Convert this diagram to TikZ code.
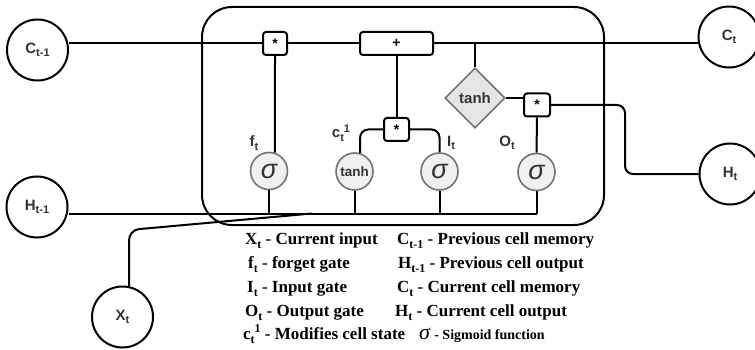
\documentclass[tikz,border=0pt]{standalone}
\usepackage{fontspec}
\setmainfont{Liberation Serif}
\newfontfamily\lsans{Liberation Sans}
\usetikzlibrary{shapes.geometric}
\newcommand\dgs[1]{\raisebox{-3.5pt}{\fontsize{11}{11}\selectfont #1}}
\newcommand\dgp[1]{\raisebox{5.5pt}{\fontsize{11}{11}\selectfont #1}}
\newcommand\lgs[1]{\raisebox{-4pt}{\fontsize{12}{12}\selectfont #1}}
\newcommand\lgp[1]{\raisebox{7pt}{\fontsize{12}{12}\selectfont #1}}
\newcommand\sig[1]{{\fontsize{#1}{#1}\selectfont\itshape σ}}
\tikzset{
  wire/.style={line width=2pt, line join=round},
  big/.style={circle, draw, line width=2pt, minimum size=61pt, inner sep=0pt, fill=white,
    text=black!80, font=\lsans\bfseries\fontsize{15}{15}\selectfont},
  gate/.style={circle, draw=black!55, fill=black!6, line width=1.6pt, minimum size=37pt,
    inner sep=0pt, text=black!80, font=\lsans\bfseries\fontsize{14}{14}\selectfont},
  opbox/.style={draw, rounded corners=3pt, line width=2pt, fill=white, minimum height=23pt,
    inner sep=0pt, font=\lsans\bfseries\fontsize{14}{14}\selectfont},
  lbl/.style={text=black!80, inner sep=0pt, font=\lsans\bfseries\fontsize{15}{15}\selectfont},
  leg/.style={anchor=base west, inner sep=0pt, font=\bfseries\fontsize{17}{17}\selectfont},
}
\begin{document}
\begin{tikzpicture}[x=1pt,y=-1pt]
\useasboundingbox (0,0) rectangle (755,350);
% cell
\node[draw, line width=2pt, rounded corners=30pt, minimum width=402pt, minimum height=218pt,
  inner sep=0pt] (cell) at (403,116) {};
% outer circles
\node[big] (Cp) at (37.5,50) {C\dgs{t-1}};
\node[big] (Hp) at (37,207) {H\dgs{t-1}};
\node[big] (X) at (122.5,317) {X\dgs{t}};
\node[big] (C) at (729,37) {C\dgs{t}};
\node[big] (H) at (730,174) {H\dgs{t}};
% operator boxes
\node[opbox, minimum width=24pt] (fb) at (275,43.5) {*};
\node[opbox, minimum width=73pt] (pb) at (396.5,43.5) {+};
\node[opbox, minimum width=25pt] (mb) at (396.5,129.5) {*};
\node[opbox, minimum width=26pt] (ob) at (537,105) {*};
% gates
\node[gate] (fs) at (269,171) {\mdseries\sig{27}};
\node[gate] (tc) at (354.5,171.5) {\fontsize{13.5}{13.5}\selectfont tanh};
\node[gate] (is) at (439.5,171.5) {\mdseries\sig{27}};
\node[gate] (os) at (536.5,172) {\mdseries\sig{27}};
\node[diamond, draw=black!55, fill=black!10, line width=1.6pt, minimum width=60pt,
  minimum height=60pt, inner sep=0pt, aspect=1, text=black!80,
  font=\lsans\bfseries\fontsize{15}{15}\selectfont] (dm) at (475,98) {tanh};
% helper coordinates
\coordinate (hb) at (537,213.5);
\coordinate (xj) at (312,213.5);
\coordinate (xb) at (128,230);
\coordinate (hx) at (625,140);
% wires
\draw[wire] (Cp.east |- fb.west) -- (fb.west);
\draw[wire] (fb.east) -- (pb.west);
\draw[wire] (pb.east) -- (C.west |- pb.east);
\draw[wire] (fb.south) -- (fs.72);
\draw[wire] (pb.south) -- (mb.north);
\draw[wire, rounded corners=8pt] (tc.73) |- (mb.west);
\draw[wire, rounded corners=8pt] (is.north) |- (mb.east);
\draw[wire] (dm.north) -- (dm.north |- pb.east);
\draw[wire] (dm.east) -- (dm.east -| ob.west);
\draw[wire] (ob.south) -- (os.north);
\draw[wire, rounded corners=8pt] (ob.east) -| (hx) |- (H.west);
\draw[wire] (Hp.east |- hb) -- (hb);
\draw[wire] (fs.south) -- (fs.south |- hb);
\draw[wire] (tc.south) -- (tc.south |- hb);
\draw[wire] (is.south) -- (is.south |- hb);
\draw[wire] (os.south) -- (os.south |- hb);
\draw[wire, rounded corners=10pt] (X.78) -- (X.78 |- xb) -- (xj);
% gate labels
\node[lbl] (lf) at (254,143) {f\dgs{t}};
\node[lbl] (lc) at (341,133) {c\dgs{t}\dgp{1}};
\node[lbl] (li) at (451,143) {I\dgs{t}};
\node[lbl] (lo) at (507,143) {O\dgs{t}};
% legend
\node[leg] (l1) at (245,244) {X\lgs{t} - Current input};
\node[leg] (l2) at (248,268) {f\lgs{t} - forget gate};
\node[leg] (l3) at (247,292) {I\lgs{t} - Input gate};
\node[leg] (l4) at (245,316) {O\lgs{t} - Output gate};
\node[leg] (l5) at (243,339) {c\lgs{t}\lgp{1} - Modifies cell state};
\node[leg] (r1) at (397,244) {C\lgs{t-1} - Previous cell memory};
\node[leg] (r2) at (398,268) {H\lgs{t-1} - Previous cell output};
\node[leg] (r3) at (397,292) {C\lgs{t} - Current cell memory};
\node[leg] (r4) at (395,316) {H\lgs{t} - Current cell output};
\node[leg] (r5) at (419,339) {\mdseries\sig{22} {\bfseries\fontsize{14}{14}\selectfont - Sigmoid function}};
\end{tikzpicture}
\end{document}
